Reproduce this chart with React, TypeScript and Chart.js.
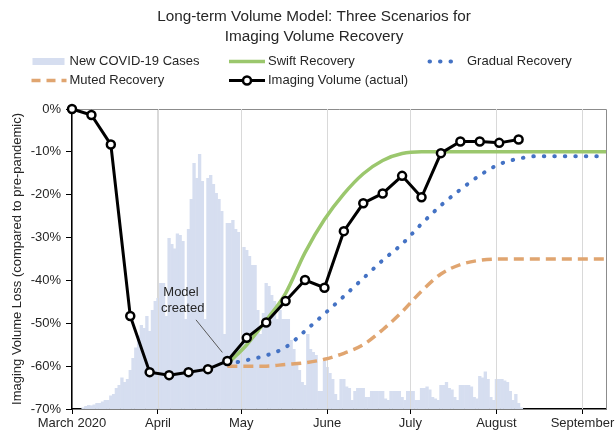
import React, { useEffect, useRef } from 'react';
import { Chart, registerables } from 'chart.js';

Chart.register(...registerables);

const FONT = "'Liberation Sans', Arial, Helvetica, sans-serif";
const TEXT = '#262626';

const titleLines = ['Long-term Volume Model: Three Scenarios for', 'Imaging Volume Recovery'];
const yAxisTitle = 'Imaging Volume Loss (compared to pre-pandemic)';

// x axis: days since March 1, 2020
const monthTickDays = [0, 31, 61, 92, 122, 153, 184];
const monthTickLabels = ['March 2020', 'April', 'May', 'June', 'July', 'August', 'September'];
const xMaxDay = 192.5;
const yMin = -70;
const yMax = 0;
const yStep = 10;

// Imaging volume (actual), weekly, % change vs pre-pandemic
const actualDays = [0, 7, 14, 21, 28, 35, 42, 49, 56, 63, 70, 77, 84, 91, 98, 105, 112, 119, 126, 133, 140, 147, 154, 161];
const actualLoss = [0, -1.4, -8.3, -48.3, -61.4, -62.1, -61.4, -60.7, -58.8, -53.4, -49.8, -44.8, -39.9, -41.7, -28.5, -22.0, -19.7, -15.6, -20.6, -10.3, -7.6, -7.6, -7.9, -7.1];

// Model scenarios
const swiftDays = [56, 63, 70, 77, 84, 91, 98, 105, 112, 119, 126, 133, 192.5];
const swiftLoss = [-59.5, -55, -49.3, -43, -33.5, -25.8, -19.8, -15.1, -12, -10.4, -10, -10, -10];

const gradualDays = [56, 63, 70, 77, 84, 91, 98, 105, 112, 119, 126, 133, 140, 147, 154, 161, 168, 192.5];
const gradualLoss = [-59.5, -58.6, -57.5, -55.6, -51.8, -47.8, -43.7, -39.5, -35.3, -31.5, -26.8, -22.5, -18.8, -15.5, -12.9, -11.6, -11, -11];

const mutedDays = [56, 63, 70, 77, 84, 91, 98, 105, 112, 119, 126, 133, 140, 147, 154, 192.5];
const mutedLoss = [-60, -60, -60, -59.6, -59.2, -58.4, -57, -55, -51.5, -47.3, -42.5, -38.5, -36.3, -35.3, -35, -35];

// New COVID-19 cases (relative daily counts), starting on day 4
const casesFirstDay = 4;
const newCases = [
  0.5, 1, 1.3, 1.2, 1.5, 2, 2, 2.5, 3, 3,
  4.5, 5, 7, 8, 10.5, 9, 10, 13, 17, 20.5,
  24.5, 28, 27, 31, 26, 33, 36, 37, 42, 42,
  31, 57, 55, 53.5, 58.5, 58, 56, 30, 60, 70,
  82, 77, 85, 76, 30, 77, 78, 75, 72, 70,
  66, 25, 62, 62, 63, 60, 59, 22, 54, 53,
  51, 48, 48, 33, 25, 32, 42, 41, 38, 36,
  30, 33, 30, 30, 30, 23, 20, 15, 13, 9,
  8, 25, 20, 19, 18, 6, 6, 16, 14, 12,
  10, 5, 3, 10, 10, 7.5, 7, 3, 6, 7,
  7, 7, 4, 4, 6, 6, 6, 6, 6, 3.5,
  3, 6, 6, 6, 6, 4, 3, 6, 6, 6,
  3, 3, 7, 7, 7.5, 6.5, 4, 3.5, 3, 8,
  8, 9, 7, 6.5, 4, 3, 8, 8, 8, 8,
  7.5, 4, 3.5, 11, 10.5, 12.5, 10, 4, 3, 10,
  10, 10, 9.5, 9, 6, 3, 5, 2, 0.5,
];
const casesMax = 100;

const seriesLabels = ['New COVID-19 Cases', 'Swift Recovery', 'Gradual Recovery', 'Muted Recovery', 'Imaging Volume (actual)'];
const noteLines = ['Model', 'created'];

const COLORS = {
  cases: '#D6DEF0',
  swift: '#9BC76D',
  gradual: '#4472C4',
  muted: '#E0A570',
  actual: '#000000',
  grid: '#d9d9d9',
};

const toXY = (xs: number[], ys: number[]) => xs.map((x, i) => ({ x, y: ys[i] }));

const decorPlugin = {
  id: 'decor',
  afterDatasetDraw(chart: any, args: any) {
    if (args.meta.type !== 'bar') return;
    // vertical gridlines visible over the case bars, beneath the lines
    const { ctx, chartArea: a, scales } = chart;
    ctx.save();
    ctx.strokeStyle = COLORS.grid;
    ctx.lineWidth = 1;
    ctx.beginPath();
    monthTickDays.forEach((d) => {
      if (d === 0) return;
      const px = Math.round(scales.x.getPixelForValue(d)) + 0.5;
      ctx.moveTo(px, a.top);
      ctx.lineTo(px, a.bottom);
    });
    ctx.stroke();
    ctx.restore();
  },
  beforeDatasetsDraw(chart: any) {
    const { ctx, chartArea: a } = chart;
    ctx.save();
    ctx.strokeStyle = '#8c8c8c';
    ctx.lineWidth = 1;
    ctx.beginPath();
    ctx.moveTo(a.left, Math.round(a.top) + 0.5);
    ctx.lineTo(Math.round(a.right) + 0.5, Math.round(a.top) + 0.5);
    ctx.lineTo(Math.round(a.right) + 0.5, a.bottom);
    ctx.stroke();
    ctx.restore();
  },
  afterDraw(chart: any) {
    const { ctx, scales } = chart;
    ctx.save();
    // Title
    ctx.fillStyle = TEXT;
    ctx.textAlign = 'center';
    ctx.textBaseline = 'middle';
    ctx.font = `15.3px ${FONT}`;
    titleLines.forEach((t, i) => ctx.fillText(t, 314, 17 + i * 19.5));

    // Legend (3-column grid)
    const colMarkX = [31.5, 229, 427.5];
    const colTextX = [69.5, 268, 467];
    const rowY = [61.5, 80.5];
    const kinds = ['patch', 'solid', 'dotted', 'dashed', 'marker'];
    const colors = [COLORS.cases, COLORS.swift, COLORS.gradual, COLORS.muted, COLORS.actual];
    ctx.font = `13px ${FONT}`;
    seriesLabels.forEach((label, i) => {
      const col = i % 3;
      const row = Math.floor(i / 3);
      const x0 = colMarkX[col];
      const y = rowY[row];
      const kind = kinds[i];
      ctx.save();
      if (kind === 'patch') {
        ctx.fillStyle = colors[i];
        ctx.fillRect(x0 + 1, y - 3.5, 32, 7);
      } else {
        ctx.strokeStyle = colors[i];
        ctx.beginPath();
        if (kind === 'solid') {
          ctx.lineWidth = 3.5;
          ctx.moveTo(x0, y);
          ctx.lineTo(x0 + 36, y);
        } else if (kind === 'dotted') {
          ctx.lineWidth = 4;
          ctx.lineCap = 'round';
          ctx.setLineDash([0.5, 10]);
          ctx.moveTo(x0 + 2, y);
          ctx.lineTo(x0 + 32, y);
        } else if (kind === 'dashed') {
          ctx.lineWidth = 3.5;
          ctx.setLineDash([9, 6]);
          ctx.moveTo(x0, y);
          ctx.lineTo(x0 + 35, y);
        } else {
          ctx.lineWidth = 3;
          ctx.moveTo(x0, y);
          ctx.lineTo(x0 + 36, y);
        }
        ctx.stroke();
        if (kind === 'marker') {
          ctx.setLineDash([]);
          ctx.beginPath();
          ctx.arc(x0 + 18, y, 4, 0, Math.PI * 2);
          ctx.fillStyle = '#fff';
          ctx.fill();
          ctx.lineWidth = 2.5;
          ctx.strokeStyle = '#000';
          ctx.stroke();
        }
      }
      ctx.restore();
      ctx.fillStyle = TEXT;
      ctx.textAlign = 'left';
      ctx.textBaseline = 'middle';
      ctx.fillText(label, colTextX[col], y);
    });

    // "Model created" note with leader line
    const xs = scales.x;
    const ys = scales.y;
    ctx.textAlign = 'center';
    ctx.fillStyle = TEXT;
    ctx.font = `13px ${FONT}`;
    ctx.fillText(noteLines[0], xs.getPixelForValue(39.3), ys.getPixelForValue(-42.9));
    ctx.fillText(noteLines[1], xs.getPixelForValue(39.9), ys.getPixelForValue(-46.5));
    ctx.strokeStyle = '#595959';
    ctx.lineWidth = 1;
    ctx.beginPath();
    ctx.moveTo(xs.getPixelForValue(44.7), ys.getPixelForValue(-49.2));
    ctx.lineTo(xs.getPixelForValue(54.2), ys.getPixelForValue(-56.8));
    ctx.stroke();
    ctx.restore();
  },
};

export default function App() {
  const canvasRef = useRef<HTMLCanvasElement | null>(null);

  useEffect(() => {
    const canvas = canvasRef.current;
    if (!canvas) return;
    Chart.defaults.font.family = FONT;
    Chart.defaults.color = TEXT;

    const chart = new Chart(canvas, {
      type: 'line',
      data: {
        datasets: [
          {
            type: 'line',
            label: seriesLabels[4],
            data: toXY(actualDays, actualLoss),
            borderColor: COLORS.actual,
            borderWidth: 3,
            pointRadius: 4,
            pointBorderWidth: 2.5,
            pointBackgroundColor: '#ffffff',
            pointBorderColor: '#000000',
            tension: 0,
            clip: false,
            yAxisID: 'y',
            order: 0,
          },
          {
            type: 'line',
            label: seriesLabels[1],
            data: toXY(swiftDays, swiftLoss),
            borderColor: COLORS.swift,
            borderWidth: 3.5,
            pointRadius: 0,
            cubicInterpolationMode: 'monotone',
            yAxisID: 'y',
            order: 1,
          },
          {
            type: 'line',
            label: seriesLabels[2],
            data: toXY(gradualDays, gradualLoss),
            borderColor: COLORS.gradual,
            borderWidth: 4,
            borderDash: [0.5, 10],
            borderCapStyle: 'round',
            pointRadius: 0,
            cubicInterpolationMode: 'monotone',
            yAxisID: 'y',
            order: 2,
          },
          {
            type: 'line',
            label: seriesLabels[3],
            data: toXY(mutedDays, mutedLoss),
            borderColor: COLORS.muted,
            borderWidth: 3.5,
            borderDash: [10, 6],
            pointRadius: 0,
            cubicInterpolationMode: 'monotone',
            yAxisID: 'y',
            order: 3,
          },
          {
            type: 'bar',
            label: seriesLabels[0],
            data: newCases.map((v, i) => ({ x: casesFirstDay + i, y: v })),
            backgroundColor: COLORS.cases,
            borderWidth: 0,
            barPercentage: 1.2,
            categoryPercentage: 1,
            yAxisID: 'y2',
            order: 5,
          },
        ],
      } as any,
      options: {
        responsive: false,
        animation: false,
        events: [],
        layout: { padding: { top: 109, right: 9, bottom: 0, left: 0 } },
        plugins: {
          legend: { display: false },
          tooltip: { enabled: false },
          title: { display: false },
        },
        scales: {
          x: {
            type: 'linear',
            min: 0,
            max: xMaxDay,
            bounds: 'data',
            offset: false,
            afterBuildTicks: (s: any) => {
              s.ticks = monthTickDays.map((v) => ({ value: v }));
            },
            afterFit: (s: any) => {
              s.height = 23;
              s.paddingLeft = 0;
              s.paddingRight = 0;
            },
            ticks: {
              autoSkip: false,
              maxRotation: 0,
              minRotation: 0,
              padding: 2,
              color: TEXT,
              font: { size: 13, family: FONT },
              callback: (v: any) => monthTickLabels[monthTickDays.indexOf(Number(v))] ?? '',
            },
            grid: {
              offset: false,
              color: COLORS.grid,
              lineWidth: 1,
              drawTicks: true,
              tickLength: 5,
              tickColor: '#000000',
              tickWidth: 1,
            },
            border: { color: '#000000', width: 1.5 },
          },
          y: {
            type: 'linear',
            position: 'left',
            min: yMin,
            max: yMax,
            afterFit: (s: any) => {
              s.width = 72;
              s.paddingTop = 0;
              s.paddingBottom = 0;
            },
            ticks: {
              stepSize: yStep,
              padding: 5,
              color: TEXT,
              font: { size: 13, family: FONT },
              callback: (v: any) => `${v}%`,
            },
            grid: {
              drawOnChartArea: false,
              drawTicks: true,
              tickLength: 6,
              tickColor: '#000000',
              tickWidth: 1,
            },
            border: { color: '#000000', width: 1.5 },
            title: {
              display: true,
              text: yAxisTitle,
              color: TEXT,
              font: { size: 13, family: FONT },
              padding: { top: 10, bottom: 0 },
            },
          },
          y2: {
            type: 'linear',
            display: false,
            min: 0,
            max: casesMax,
          },
        },
      } as any,
      plugins: [decorPlugin],
    });

    return () => chart.destroy();
  }, []);

  return (
    <div style={{ position: 'fixed', left: 0, top: 0, width: 615, height: 432, background: '#fff' }}>
      <canvas ref={canvasRef} width={615} height={432} style={{ display: 'block' }} />
    </div>
  );
}
